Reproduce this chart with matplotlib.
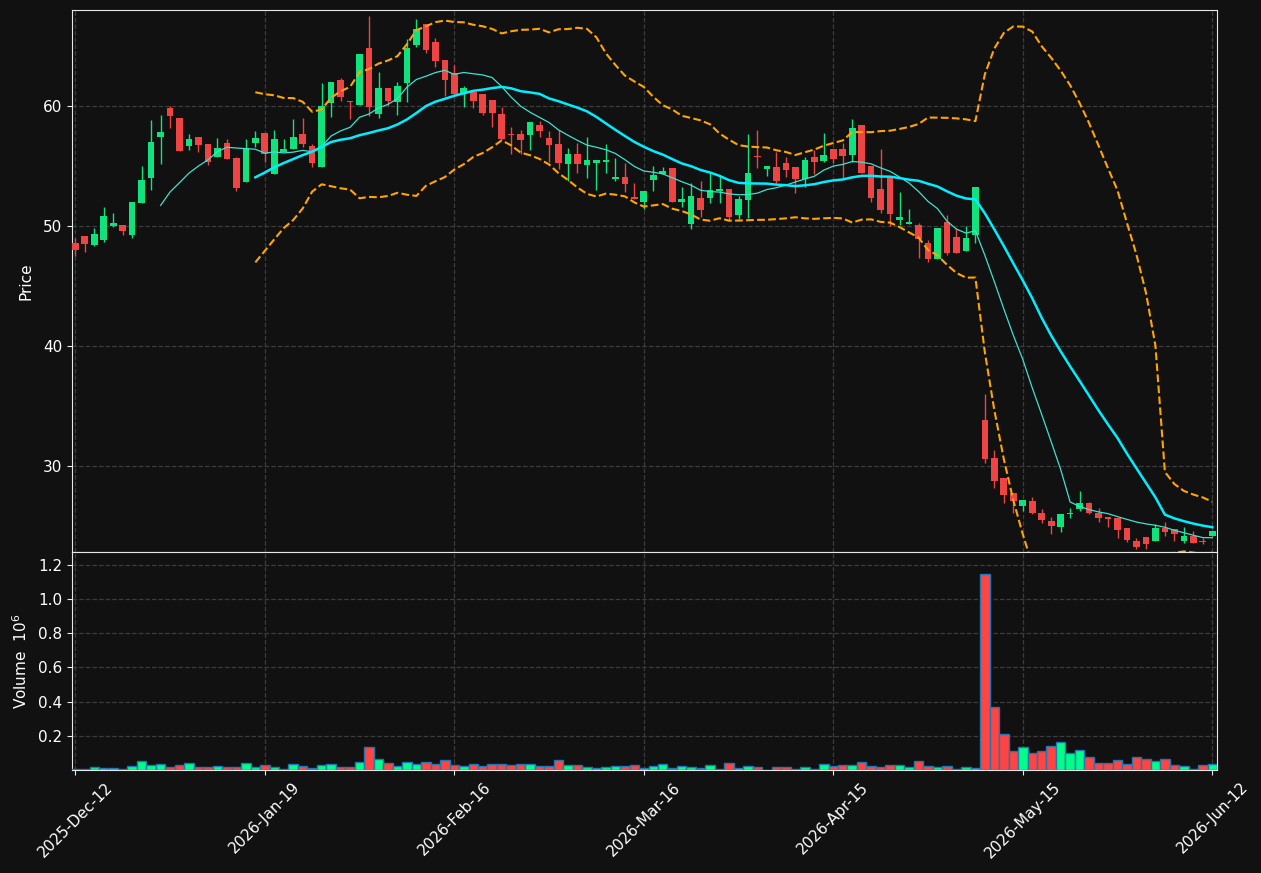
import numpy as np
import pandas as pd
import matplotlib
matplotlib.use("Agg")
import matplotlib.pyplot as plt

# OHLC, one entry per trading day
opens = [48.58, 49.17, 48.42, 48.86, 50.03, 50.08, 49.28, 51.94, 54.03, 57.42,
         59.80, 59.00, 56.69, 57.42, 56.83, 55.78, 56.89, 55.64, 53.70, 56.92,
         57.75, 54.36, 56.17, 56.44, 57.67, 56.67, 54.94, 60.28, 62.17, 60.44,
         60.11, 64.80, 59.36, 61.47, 60.36, 61.94, 65.08, 66.80, 65.30, 63.80,
         62.72, 61.11, 61.17, 61.00, 60.47, 59.33, 57.70, 57.67, 57.61, 58.42,
         57.33, 56.83, 55.20, 56.00, 55.11, 55.28, 55.36, 53.95, 54.08, 52.45,
         51.97, 53.83, 54.33, 54.83, 52.03, 50.17, 52.33, 52.36, 52.92, 53.08,
         50.92, 52.19, 55.80, 54.75, 54.92, 55.25, 54.92, 53.94, 55.75, 55.42,
         56.42, 56.42, 55.94, 58.42, 55.03, 53.08, 54.06, 50.47, 50.17, 50.08,
         48.61, 47.28, 50.33, 49.08, 47.94, 49.28, 33.83, 30.67, 29.00, 27.75,
         26.67, 27.06, 26.08, 25.42, 24.94, 26.03, 26.42, 26.92, 26.11, 25.78,
         25.70, 24.83, 23.78, 24.08, 23.78, 24.86, 24.72, 23.75, 24.19, 23.78,
         24.14]
highs = [49.03, 49.20, 49.80, 51.56, 51.08, 50.10, 52.00, 55.00, 58.83, 59.25,
         60.00, 59.00, 57.64, 57.42, 56.83, 57.30, 57.22, 55.78, 57.22, 57.92,
         57.75, 58.00, 57.22, 58.92, 58.97, 56.86, 61.89, 62.00, 62.31, 60.44,
         64.33, 67.50, 62.80, 61.47, 62.00, 65.58, 67.22, 66.80, 65.64, 63.80,
         63.42, 61.67, 61.17, 61.00, 60.47, 59.89, 58.22, 58.00, 58.67, 58.78,
         57.92, 58.00, 56.47, 56.89, 57.39, 55.50, 56.80, 55.67, 55.22, 53.56,
         52.94, 55.00, 54.89, 54.83, 53.22, 53.56, 53.75, 54.44, 54.17, 53.08,
         52.53, 57.67, 58.00, 55.00, 56.19, 55.78, 54.92, 55.72, 56.33, 57.72,
         56.42, 56.89, 58.92, 58.42, 55.03, 56.39, 54.06, 52.81, 51.39, 50.22,
         48.83, 49.86, 50.89, 49.80, 50.03, 53.22, 36.00, 31.30, 29.00, 27.75,
         27.17, 27.39, 26.39, 25.72, 26.00, 26.53, 27.89, 27.00, 26.47, 25.78,
         25.70, 24.83, 24.03, 24.08, 25.17, 25.36, 24.72, 24.89, 24.61, 23.97,
         24.58]
lows = [47.53, 47.80, 48.33, 48.64, 49.94, 49.22, 48.97, 51.94, 53.03, 55.14,
        58.20, 56.28, 56.31, 56.20, 55.08, 55.78, 55.61, 52.94, 53.70, 56.61,
        55.36, 54.36, 56.17, 56.44, 56.56, 54.94, 54.94, 59.11, 60.44, 58.94,
        60.11, 59.17, 58.97, 60.00, 59.25, 60.33, 64.94, 64.39, 63.22, 60.83,
        61.00, 59.89, 59.80, 59.25, 58.22, 57.28, 55.97, 55.97, 56.33, 57.45,
        55.36, 54.75, 53.78, 54.45, 54.03, 53.00, 54.45, 53.75, 52.86, 52.28,
        51.42, 52.94, 54.33, 52.00, 51.56, 49.72, 50.72, 51.94, 51.94, 50.50,
        50.56, 50.64, 54.86, 54.20, 53.56, 54.06, 52.78, 53.22, 54.33, 55.36,
        55.22, 53.97, 55.36, 54.42, 52.03, 51.06, 50.00, 50.08, 50.17, 47.31,
        47.03, 47.28, 47.58, 47.78, 47.94, 48.56, 30.28, 28.14, 26.94, 26.11,
        26.28, 25.97, 25.28, 24.33, 24.53, 25.69, 26.25, 25.97, 25.31, 24.94,
        23.97, 23.64, 23.11, 23.11, 23.78, 24.14, 23.78, 23.56, 23.58, 23.47,
        24.14]
closes = [48.00, 48.50, 49.30, 50.83, 50.25, 49.58, 52.00, 53.83, 57.00, 57.83,
          59.20, 56.28, 57.25, 56.75, 55.36, 56.47, 55.61, 53.20, 56.47, 57.36,
          55.96, 57.25, 56.42, 57.42, 56.83, 55.28, 60.00, 62.00, 60.72, 60.33,
          64.33, 59.94, 61.47, 60.44, 61.64, 64.80, 66.39, 64.70, 63.78, 62.19,
          61.00, 61.47, 60.44, 59.44, 59.44, 57.28, 57.60, 57.20, 58.67, 57.92,
          56.75, 55.28, 55.97, 55.20, 55.50, 55.50, 55.53, 54.08, 53.53, 52.28,
          52.93, 54.25, 54.58, 52.00, 52.25, 52.50, 51.33, 53.00, 53.08, 50.78,
          52.25, 54.42, 55.75, 55.00, 53.75, 54.69, 53.92, 55.50, 55.33, 55.92,
          55.58, 55.86, 58.17, 54.42, 52.36, 51.33, 51.03, 50.75, 50.33, 48.94,
          47.28, 49.86, 47.72, 47.78, 49.03, 53.22, 30.61, 28.78, 27.61, 27.06,
          27.17, 26.11, 25.50, 25.03, 26.00, 26.11, 26.92, 26.11, 25.69, 25.61,
          24.69, 23.83, 23.28, 23.50, 24.81, 24.50, 24.33, 24.14, 23.58, 23.64,
          24.58]
# volume in millions
volumes = [0.008, 0.008, 0.017, 0.010, 0.010, 0.006, 0.021, 0.052, 0.027, 0.035,
           0.019, 0.027, 0.041, 0.019, 0.019, 0.021, 0.016, 0.016, 0.041, 0.016,
           0.029, 0.017, 0.006, 0.035, 0.021, 0.010, 0.029, 0.035, 0.016, 0.016,
           0.047, 0.134, 0.064, 0.041, 0.021, 0.047, 0.035, 0.047, 0.035, 0.058,
           0.029, 0.021, 0.035, 0.021, 0.035, 0.035, 0.029, 0.035, 0.035, 0.021,
           0.021, 0.058, 0.029, 0.029, 0.016, 0.010, 0.016, 0.021, 0.021, 0.029,
           0.010, 0.023, 0.035, 0.012, 0.023, 0.017, 0.012, 0.029, 0.006, 0.041,
           0.012, 0.023, 0.017, 0.002, 0.017, 0.017, 0.006, 0.017, 0.006, 0.035,
           0.023, 0.029, 0.029, 0.047, 0.023, 0.017, 0.029, 0.029, 0.017, 0.052,
           0.023, 0.017, 0.023, 0.006, 0.017, 0.012, 1.148, 0.367, 0.210, 0.111,
           0.134, 0.099, 0.111, 0.140, 0.163, 0.099, 0.117, 0.076, 0.041, 0.041,
           0.058, 0.035, 0.076, 0.064, 0.052, 0.064, 0.029, 0.023, 0.006, 0.029,
           0.035]
tick_labels = ["2025-Dec-12", "2026-Jan-19", "2026-Feb-16", "2026-Mar-16",
               "2026-Apr-15", "2026-May-15", "2026-Jun-12"]

df = pd.DataFrame({"Open": opens, "High": highs, "Low": lows,
                   "Close": closes, "Volume": volumes})
x = np.arange(len(df))
up = df["Close"] >= df["Open"]

mav10 = df["Close"].rolling(10).mean()
mav20 = df["Close"].rolling(20).mean()
std20 = df["Close"].rolling(20).std()
bb_up = mav20 + 2 * std20
bb_lo = mav20 - 2 * std20

bg = "#111111"
grid_c = "#3c3c3c"
up_c, down_c = "#10e37e", "#ef4444"
vup_c, vdown_c = "#00ff88", "#ff4444"

plt.rcParams["font.size"] = 11
fig = plt.figure(figsize=(12.61, 8.73), dpi=100, facecolor=bg)
ax = fig.add_axes([0.0571, 0.3677, 0.9080, 0.6209])
axv = fig.add_axes([0.0571, 0.1180, 0.9080, 0.2497], sharex=ax)

for a in (ax, axv):
    a.set_facecolor(bg)
    for s in a.spines.values():
        s.set_color("#e8e8e8")
    a.tick_params(colors="#e8e8e8", labelcolor="#ffffff")
    a.grid(True, color=grid_c, linestyle="--", linewidth=0.9)
    a.set_axisbelow(True)

# candles
colors = np.where(up, up_c, down_c)
ax.vlines(x, df["Low"], df["High"], colors=colors, linewidth=1.0, zorder=2)
body_lo = np.minimum(df["Open"], df["Close"])
body_h = (df["Open"] - df["Close"]).abs().clip(lower=0.06)
ax.bar(x, body_h, bottom=body_lo, width=0.7, color=colors, linewidth=0, zorder=3)

ax.plot(x, mav10, color="#40e0d0", linewidth=0.9, zorder=4)
ax.plot(x, mav20, color="#00eeff", linewidth=1.8, zorder=4)
ax.plot(x, bb_up, color="#ffa500", linewidth=1.5, linestyle="--", zorder=4)
ax.plot(x, bb_lo, color="#ffa500", linewidth=1.5, linestyle="--", zorder=4)

ax.set_ylim(22.83, 68.0)
ax.set_yticks([30, 40, 50, 60])
ax.set_ylabel("Price", color="#ffffff", labelpad=6.5)
ax.tick_params(axis="x", labelbottom=False)

# volume
vcolors = np.where(up, vup_c, vdown_c)
axv.bar(x, df["Volume"], width=1.0, color=vcolors, edgecolor="#1f77b4",
        linewidth=1.0, zorder=3)
axv.set_ylim(0, 1.276)
axv.set_yticks([0.2, 0.4, 0.6, 0.8, 1.0, 1.2])
axv.set_ylabel("Volume  $10^{6}$", color="#ffffff", labelpad=5.5)

ticks = np.arange(0, len(df), 20)
axv.set_xticks(ticks)
axv.set_xticklabels(tick_labels, rotation=45, ha="center")
axv.set_xlim(-0.35, len(df) - 0.5)

fig.savefig("out.png", dpi=100, facecolor=bg)
